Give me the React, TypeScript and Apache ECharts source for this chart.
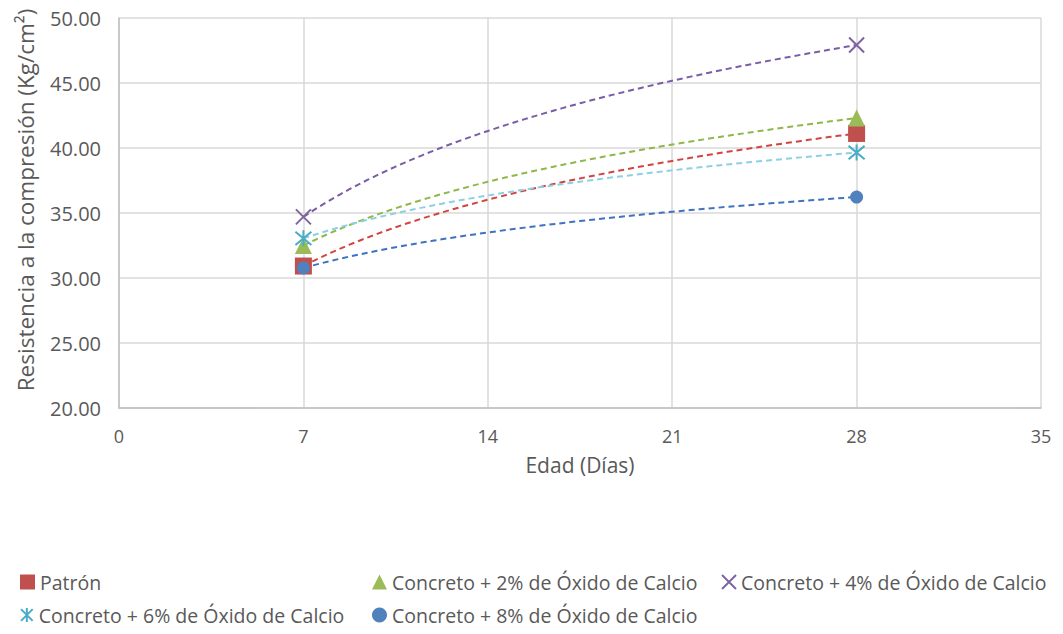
import React, { useEffect, useRef } from "react";
import * as echarts from "echarts";

const days = [7, 28];
const seriesNames = [
  "Patrón",
  "Concreto + 2% de Óxido de Calcio",
  "Concreto + 4% de Óxido de Calcio",
  "Concreto + 6% de Óxido de Calcio",
  "Concreto + 8% de Óxido de Calcio",
];
const patron = [30.92, 41.12];
const cal2 = [32.5, 42.3];
const cal4 = [34.7, 47.92];
const cal6 = [33.05, 39.65];
const cal8 = [30.77, 36.23];
const values = [patron, cal2, cal4, cal6, cal8];

const xTicks = [0, 7, 14, 21, 28, 35];
const yMin = 20;
const yMax = 50;

const colors = ["#C0504D", "#9BBB59", "#8064A2", "#4BACC6", "#4F81BD"];
const trendColors = ["#D0463F", "#8DB84A", "#7B5CA6", "#8DD0E3", "#3F72C0"];

const X_PATH = "path://M0,0L10,10M10,0L0,10";
const STAR_PATH = "path://M0,0L10,10M10,0L0,10M5,-1L5,11";
const symbols = ["rect", "triangle", X_PATH, STAR_PATH, "circle"];
const symbolSizes = [17, 17, 15, 16, 13];
const strokeOnly = [false, false, true, true, false];

// Logarithmic trend line (as the spreadsheet's trendline) through the two measured points
function logTrend(ys: number[]) {
  const [x1, x2] = days;
  const b = (ys[1] - ys[0]) / (Math.log(x2) - Math.log(x1));
  const a = ys[0] - b * Math.log(x1);
  const pts: number[][] = [];
  for (let i = 0; i <= 60; i++) {
    const x = x1 + ((x2 - x1) * i) / 60;
    pts.push([x, a + b * Math.log(x)]);
  }
  return pts;
}

const legendPos = [
  { left: 15, top: 565 },
  { left: 367, top: 565 },
  { left: 716, top: 565 },
  { left: 15, top: 598 },
  { left: 367, top: 598 },
];

export default function App() {
  const ref = useRef<HTMLDivElement>(null);
  useEffect(() => {
    if (!ref.current) return;
    const chart = echarts.init(ref.current, undefined, { renderer: "svg" });
    const font = "'Open Sans', sans-serif";
    const trendSeries = values.map((v, i) => ({
      name: "trend-" + i,
      type: "line",
      data: logTrend(v),
      showSymbol: false,
      symbol: "none",
      smooth: false,
      silent: true,
      lineStyle: { color: trendColors[i], width: 2, type: [6, 4] },
      z: 2,
    }));
    const pointSeries = values.map((v, i) => ({
      name: seriesNames[i],
      type: "scatter",
      data: days.map((d, j) => [d, v[j]]),
      symbol: symbols[i],
      symbolSize: symbolSizes[i],
      itemStyle: strokeOnly[i]
        ? { color: colors[i], borderColor: colors[i], borderWidth: 2, opacity: 1 }
        : { color: colors[i], opacity: 1 },
      z: 3,
    }));
    const legends = seriesNames.map((n, i) => ({
      data: [{ name: n, icon: symbols[i] }],
      left: legendPos[i].left,
      top: legendPos[i].top,
      itemWidth: strokeOnly[i] ? 14 : 15,
      itemHeight: strokeOnly[i] ? 14 : 15,
      itemGap: 2,
      textStyle: {
        color: "#595959",
        fontSize: 19.5,
        lineHeight: 24,
        fontFamily: font,
        padding: [0, 0, 0, 0],
      },
      selectedMode: false,
    }));
    chart.setOption({
      animation: false,
      backgroundColor: "#ffffff",
      grid: { left: 119, right: 22, top: 18, bottom: 226, containLabel: false },
      legend: legends,
      xAxis: {
        type: "value",
        min: xTicks[0],
        max: xTicks[xTicks.length - 1],
        interval: 7,
        name: "Edad (Días)",
        nameLocation: "middle",
        nameGap: 46,
        nameTextStyle: { color: "#595959", fontSize: 21, fontFamily: font },
        axisLine: { show: true, lineStyle: { color: "#BFBFBF", width: 1.5 } },
        axisTick: { show: false },
        axisLabel: { color: "#595959", fontSize: 18, fontFamily: font, margin: 19 },
        splitLine: { show: true, lineStyle: { color: "#D9D9D9", width: 1.5 } },
      },
      yAxis: {
        type: "value",
        min: yMin,
        max: yMax,
        interval: 5,
        name: "Resistencia a la compresión (Kg/cm²)",
        nameLocation: "middle",
        nameGap: 82,
        nameTextStyle: {
          color: "#595959",
          fontSize: 22.5,
          fontFamily: font,
          padding: [0, 0, 0, 26],
        },
        axisLine: { show: true, lineStyle: { color: "#BFBFBF", width: 1.5 } },
        axisTick: { show: false },
        axisLabel: {
          color: "#595959",
          fontSize: 20,
          fontFamily: font,
          margin: 18,
          formatter: (v: number) => v.toFixed(2),
        },
        splitLine: { show: true, lineStyle: { color: "#D9D9D9", width: 1.5 } },
      },
      series: [...trendSeries, ...pointSeries],
    });
    return () => chart.dispose();
  }, []);
  return (
    <div
      ref={ref}
      style={{ position: "fixed", left: 0, top: 0, width: 1063, height: 634, background: "#fff" }}
    />
  );
}
